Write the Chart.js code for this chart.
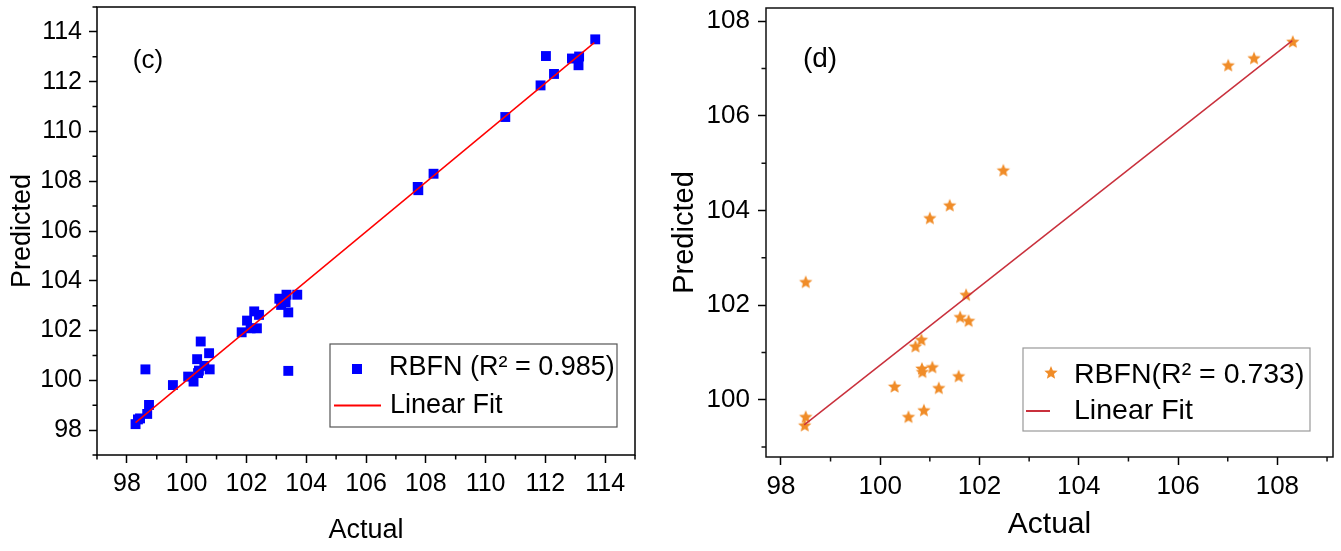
<!DOCTYPE html>
<html lang="en">
<head>
  <meta charset="UTF-8">
  <title>RBFN - Actual vs Predicted</title>
  <script src="https://cdn.jsdelivr.net/npm/chart.js"></script>
  <style>
    body { margin: 0; background: #fff; }
    #wrap { position: relative; width: 1341px; height: 551px; }
    canvas { position: absolute; top: 0; }
    #panelC { left: 0; }
    #panelD { left: 660px; }
  </style>
</head>
<body>
  <div id="wrap">
    <canvas id="panelC" width="660" height="551"></canvas>
    <canvas id="panelD" width="681" height="551"></canvas>
  </div>

  <script>
    // ---- panel (c) data ----
    const actualC = [113.67, 112.02, 112.89, 113.13, 113.11, 112.29, 111.84, 110.66, 108.26, 107.73,
                     107.75, 103.40, 98.62, 100.47, 100.75, 100.35, 100.77, 100.59, 100.41, 100.23,
                     100.05, 99.54, 98.74, 98.68, 98.44, 98.29, 102.02, 102.26, 102.42, 101.84,
                     102.14, 102.35, 103.10, 103.34, 103.70, 103.16, 103.40, 103.31, 98.37, 100.38];
    const predictedC = [113.70, 113.03, 112.93, 113.01, 112.66, 112.31, 111.85, 110.58, 108.30, 107.77,
                        107.64, 100.38, 100.44, 101.56, 101.09, 100.85, 100.44, 100.58, 100.39, 99.95,
                        100.15, 99.81, 99.01, 98.65, 98.47, 98.24, 102.40, 102.77, 102.63, 101.93,
                        102.09, 102.09, 103.28, 103.44, 103.44, 103.03, 102.73, 103.14, 98.43, 100.29];
    const fitXC = [98.29, 113.64];
    const fitYC = [98.30, 113.57];
    const ticksC = [98, 100, 102, 104, 106, 108, 110, 112, 114];
    const rangeC = [97, 115];

    // ---- panel (d) data ----
    const actualD = [108.31, 107.01, 107.53, 102.48, 101.40, 101.00, 98.50, 101.73, 101.61, 101.78,
                     100.83, 100.71, 100.84, 100.85, 101.05, 101.58, 100.29, 101.18, 100.88, 100.57,
                     98.50, 98.48];
    const predictedD = [107.56, 107.06, 107.21, 104.84, 104.10, 103.83, 102.48, 102.21, 101.74, 101.66,
                        101.26, 101.12, 100.65, 100.58, 100.68, 100.49, 100.27, 100.24, 99.77, 99.63,
                        99.63, 99.45];
    const fitXD = [98.47, 108.30];
    const fitYD = [99.47, 107.59];
    const xTicksD = [98, 100, 102, 104, 106, 108];
    const yTicksD = [100, 102, 104, 106, 108];
    const xRangeD = [97.7, 109.12];
    const yRangeD = [98.79, 108.28];

    const FONT = "'Liberation Sans', Arial, sans-serif";

    function toPoints(xs, ys) {
      return xs.map((x, i) => ({ x: x, y: ys[i] }));
    }

    // filled five point star used as point style
    function makeStar(color, r) {
      const c = document.createElement('canvas');
      const s = Math.ceil(r * 2 + 2);
      c.width = c.height = s;
      const g = c.getContext('2d');
      g.fillStyle = color;
      g.beginPath();
      for (let i = 0; i < 10; i++) {
        const rad = i % 2 ? r * 0.45 : r;
        const ang = -Math.PI / 2 + i * Math.PI / 5;
        g.lineTo(s / 2 + rad * Math.cos(ang), s / 2 + rad * Math.sin(ang));
      }
      g.closePath();
      g.fill();
      return c;
    }

    // fixed axis boxes so the frame lands where the original one is
    function fixAxis(size) {
      return function(scale) {
        if (scale.isHorizontal()) scale.height = size; else scale.width = size;
        scale.paddingTop = scale.paddingBottom = scale.paddingLeft = scale.paddingRight = 0;
      };
    }

    function axis(pos, range, ticks, box, tickFont, tickPad, title, titleFont, titlePad) {
      return {
        type: 'linear',
        position: pos,
        min: range[0],
        max: range[1],
        afterBuildTicks: s => { s.ticks = ticks.map(v => ({ value: v })); },
        afterFit: fixAxis(box),
        grid: { drawOnChartArea: false, tickLength: 8, tickWidth: 1.5, tickColor: '#000' },
        border: { display: false },
        ticks: { color: '#000', padding: tickPad, font: { family: FONT, size: tickFont } },
        title: { display: true, text: title, color: '#000', padding: titlePad,
                 font: { family: FONT, size: titleFont } }
      };
    }

    // frame, minor ticks, panel label and the boxed legend
    function decor(cfg) {
      return {
        id: 'decor',
        afterDraw(chart) {
          const { ctx, chartArea: a, scales } = chart;
          const xs = scales.x, ys = scales.y;
          ctx.save();
          ctx.strokeStyle = cfg.frame;
          ctx.lineWidth = 1.5;
          ctx.beginPath();
          for (let v = Math.ceil(xs.min); v <= xs.max; v++) {
            if (v % 2 === 0) continue;
            const p = xs.getPixelForValue(v);
            ctx.moveTo(p, a.bottom); ctx.lineTo(p, a.bottom + 4.5);
          }
          for (let v = Math.ceil(ys.min); v <= ys.max; v++) {
            if (v % 2 === 0) continue;
            const p = ys.getPixelForValue(v);
            ctx.moveTo(a.left, p); ctx.lineTo(a.left - 4.5, p);
          }
          ctx.stroke();
          ctx.strokeRect(a.left, a.top, a.right - a.left, a.bottom - a.top);

          ctx.fillStyle = '#000';
          ctx.textBaseline = 'middle';
          ctx.textAlign = 'center';
          ctx.font = cfg.labelSize + 'px ' + FONT;
          ctx.fillText(cfg.label, cfg.labelAt[0], cfg.labelAt[1]);

          const lg = cfg.legend;
          ctx.strokeStyle = lg.border;
          ctx.lineWidth = 1.2;
          ctx.strokeRect(lg.box[0], lg.box[1], lg.box[2], lg.box[3]);
          if (cfg.marker === 'rect') {
            ctx.fillStyle = cfg.color;
            ctx.fillRect(lg.mark[0] - 5, lg.mark[1] - 5, 10, 10);
          } else {
            ctx.drawImage(cfg.marker, lg.mark[0] - cfg.marker.width / 2, lg.mark[1] - cfg.marker.height / 2);
          }
          ctx.strokeStyle = cfg.lineColor;
          ctx.lineWidth = 2;
          ctx.beginPath();
          ctx.moveTo(lg.line[0], lg.line[2]); ctx.lineTo(lg.line[1], lg.line[2]);
          ctx.stroke();
          ctx.fillStyle = '#000';
          ctx.textAlign = 'left';
          ctx.font = lg.size + 'px ' + FONT;
          ctx.fillText(lg.text1, lg.t1[0], lg.t1[1]);
          ctx.fillText('Linear Fit', lg.t2[0], lg.t2[1]);
          ctx.restore();
        }
      };
    }

    const base = {
      responsive: false,
      animation: false,
      events: [],
      plugins: { legend: { display: false }, tooltip: { enabled: false } }
    };

    // ---- panel (c) ----
    new Chart(document.getElementById('panelC'), {
      type: 'scatter',
      data: {
        datasets: [{
          data: toPoints(fitXC, fitYC), showLine: true, borderColor: '#ff0000', borderWidth: 1.5,
          pointRadius: 0, order: 0
        }, {
          data: toPoints(actualC, predictedC), pointStyle: 'rect', pointRadius: 7,
          backgroundColor: '#0000ff', borderWidth: 0, order: 1
        }]
      },
      options: Object.assign({}, base, {
        layout: { padding: { top: 7, right: 25, bottom: 0, left: 0 } },
        scales: {
          x: axis('bottom', rangeC, ticksC, 96, 25, 6, 'Actual', 27, { bottom: 4 }),
          y: axis('left', rangeC, ticksC, 97, 25, 7, 'Predicted', 27, { top: 6 })
        }
      }),
      plugins: [decor({
        frame: '#000', label: '(c)', labelAt: [148, 61], labelSize: 26,
        marker: 'rect', color: '#0000ff', lineColor: '#ff0000',
        legend: { box: [330, 344, 287, 83], border: '#555', mark: [357, 369], size: 27,
                  line: [334, 381, 405.5], text1: 'RBFN (R\u00b2 = 0.985)', t1: [389, 368], t2: [390, 405.5] }
      })]
    });

    // ---- panel (d) ----
    const star = makeStar('#f08c28', 7);
    new Chart(document.getElementById('panelD'), {
      type: 'scatter',
      data: {
        datasets: [{
          data: toPoints(fitXD, fitYD), showLine: true, borderColor: '#c9303c', borderWidth: 1.5,
          pointRadius: 0, order: 0
        }, {
          data: toPoints(actualD, predictedD), pointStyle: star, pointRadius: 7, order: 1
        }]
      },
      options: Object.assign({}, base, {
        layout: { padding: { top: 7, right: 8, bottom: 0, left: 0 } },
        scales: {
          x: axis('bottom', xRangeD, xTicksD, 94, 26, 6, 'Actual', 30, { bottom: 8 }),
          y: axis('left', yRangeD, yTicksD, 106, 26, 8, 'Predicted', 29, { top: 8 })
        }
      }),
      plugins: [decor({
        frame: '#111', label: '(d)', labelAt: [160, 59], labelSize: 28,
        marker: star, color: '#f08c28', lineColor: '#c9303c',
        legend: { box: [363, 348, 287, 83], border: '#999', mark: [391, 373], size: 28.5,
                  line: [366, 390, 411], text1: 'RBFN(R\u00b2 = 0.733)', t1: [414, 375], t2: [414, 411] }
      })]
    });
  </script>
</body>
</html>
